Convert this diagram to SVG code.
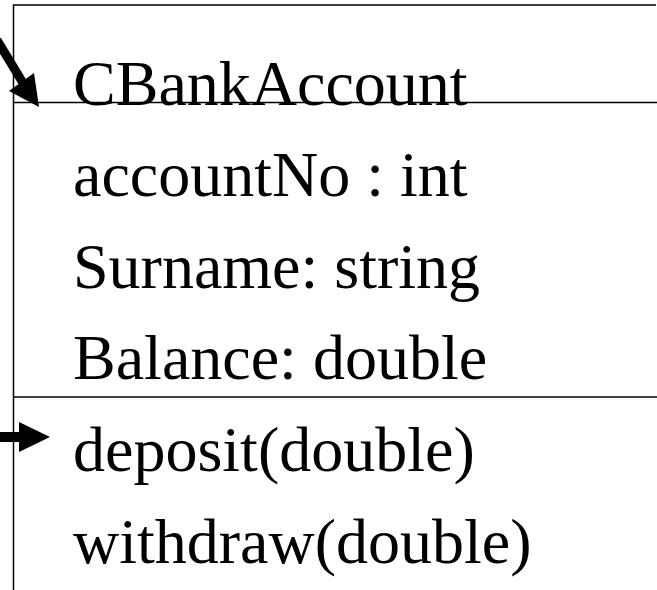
<svg xmlns="http://www.w3.org/2000/svg" width="657" height="590" viewBox="0 0 657 590">
<style>
.t{font-family:"Liberation Serif","Times New Roman",serif;font-size:64px;fill:#000}
.l{stroke:#000;stroke-width:1.5;fill:none}
</style>
<rect width="657" height="590" fill="#fff"/>
<g id="class-box">
<path class="l" d="M656,5 H13.5 V590"/>
<line class="l" x1="13.5" y1="102.5" x2="657" y2="102.5"/>
<line class="l" x1="13.5" y1="397" x2="657" y2="397"/>
<text class="t" x="73" y="105">CBankAccount</text>
<text class="t" x="73" y="196">accountNo : int</text>
<text class="t" x="73" y="288">Surname: string</text>
<text class="t" x="73" y="379">Balance: double</text>
<text class="t" x="73" y="471">deposit(double)</text>
<text class="t" x="73" y="563">withdraw(double)</text>
</g>
<g id="connectors">
<line x1="-3" y1="40" x2="23" y2="83" stroke="#000" stroke-width="9"/>
<polygon points="9,91 34,73 39,107" fill="#000"/>
<line x1="0" y1="437" x2="22" y2="437" stroke="#000" stroke-width="10"/>
<polygon points="19,422 50,437 19,452" fill="#000"/>
</g>
</svg>
